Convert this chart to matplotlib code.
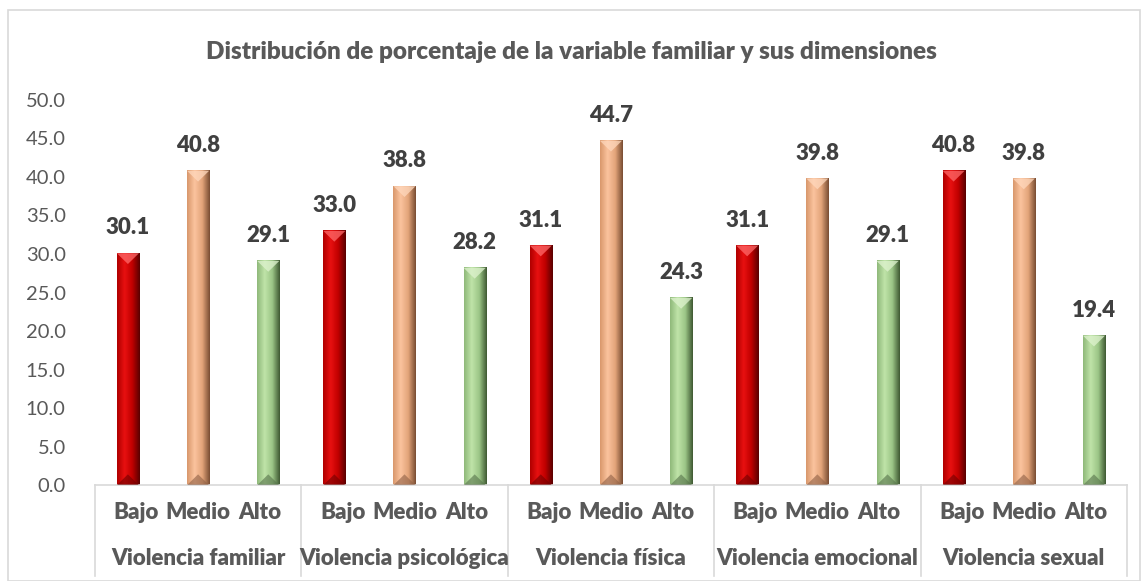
import matplotlib
matplotlib.use('Agg')
import matplotlib.pyplot as plt
import numpy as np
from matplotlib.colors import LinearSegmentedColormap
from matplotlib.patches import Polygon, Rectangle

plt.rcParams['font.family'] = ['Lato', 'DejaVu Sans']

# datos
grupos = ["Violencia familiar", "Violencia psicológica", "Violencia física",
          "Violencia emocional", "Violencia sexual"]
niveles = ["Bajo", "Medio", "Alto"]
bajo = [30.1, 33.0, 31.1, 31.1, 40.8]
medio = [40.8, 38.8, 44.7, 39.8, 39.8]
alto = [29.1, 28.2, 24.3, 29.1, 19.4]
titulo = "Distribución de porcentaje de la variable familiar y sus dimensiones"

# colores tipo cilindro (borde, brillo, sombra)
cmaps = [
    LinearSegmentedColormap.from_list("rojo", ["#b00000", "#e81010", "#c00000", "#5a0000"]),
    LinearSegmentedColormap.from_list("naranja", ["#d9986c", "#fbc39e", "#e3a47a", "#7a4e33"]),
    LinearSegmentedColormap.from_list("verde", ["#8fb97a", "#bfe3a8", "#9cc687", "#3f5a33"]),
]
tapa = ["#ff6a6a", "#ffd8bd", "#dff3cf"]
base = ["#700000", "#8f6045", "#56724a"]

fig = plt.figure(figsize=(11.43, 5.81), dpi=100)
ax = fig.add_axes([0.083, 0.165, 0.903, 0.663])

grad = np.linspace(0, 1, 64).reshape(1, -1)
ancho = 0.107
sep = 0.34
th = 1.4
series = [bajo, medio, alto]
for j, vals in enumerate(series):
    for i, v in enumerate(vals):
        x = i + (j - 1) * sep
        x0, x1 = x - ancho / 2, x + ancho / 2
        ax.imshow(grad, cmap=cmaps[j], extent=[x0, x1, 0, v], aspect='auto', zorder=2)
        ax.add_patch(Polygon([[x0, v], [x1, v], [x, v - th]], closed=True,
                             facecolor=tapa[j], edgecolor='none', alpha=0.75, zorder=3))
        ax.add_patch(Polygon([[x0, 0], [x1, 0], [x, th]], closed=True,
                             facecolor=base[j], edgecolor='none', alpha=0.6, zorder=3))
        ax.text(x, v + 3.3, f"{v:.1f}", ha='center', va='center', fontsize=16,
                fontweight='heavy', color='#404040')
        ax.text(i + (j - 1) * 0.30, -0.07, niveles[j], transform=ax.get_xaxis_transform(),
                ha='center', va='center', fontsize=16, fontweight='heavy', color='#595959')

for i, g in enumerate(grupos):
    ax.text(i, -0.19, g, transform=ax.get_xaxis_transform(), ha='center', va='center',
            fontsize=16, fontweight='heavy', color='#595959')
for k in range(len(grupos) + 1):
    ax.plot([k - 0.5, k - 0.5], [0, -0.235], transform=ax.get_xaxis_transform(),
            color='#d9d9d9', lw=1.2, clip_on=False)

ax.set_xlim(-0.5, 4.5)
ax.set_ylim(0, 50)
ax.set_yticks(np.arange(0, 50.1, 5))
ax.set_yticklabels([f"{t:.1f}" for t in np.arange(0, 50.1, 5)])
ax.tick_params(axis='y', length=0, labelsize=14.5, labelcolor='#595959', pad=21)
ax.set_xticks([])
for s in ['top', 'right', 'left']:
    ax.spines[s].set_visible(False)
ax.spines['bottom'].set_color('#d9d9d9')
ax.spines['bottom'].set_linewidth(1.2)

fig.text(0.5, 1 - 52 / 581, titulo, ha='center', va='center', fontsize=17.5,
         fontweight='heavy', color='#595959')
fig.patches.append(Rectangle((8 / 1143, 0), 1132 / 1143, 1 - 10 / 581, transform=fig.transFigure,
                             fill=False, edgecolor='#d9d9d9', lw=1.2))

plt.savefig("out.png", dpi=100)
